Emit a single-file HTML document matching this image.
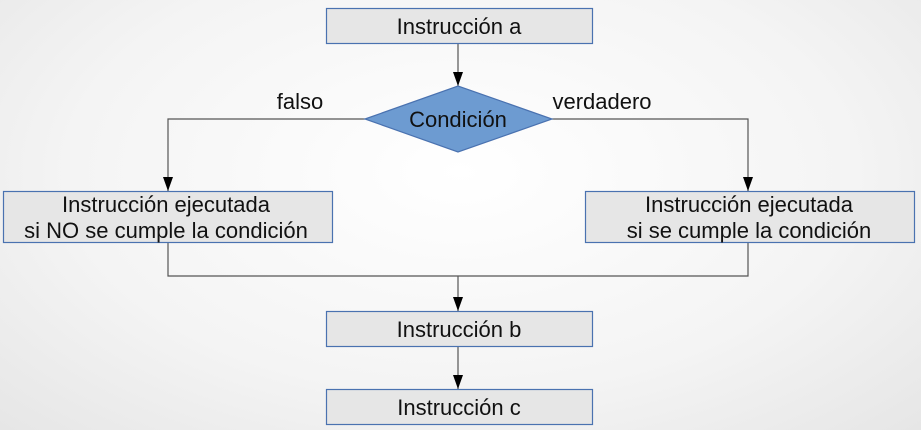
<!DOCTYPE html>
<html><head><meta charset="utf-8"><style>
html,body{margin:0;padding:0;width:921px;height:430px;overflow:hidden;}
body{background:radial-gradient(ellipse at 50% 40%,#ffffff 0%,#f4f4f4 60%,#e6e6e6 100%);}
svg{display:block}
text{font-family:"Liberation Sans",sans-serif;font-size:22px;fill:#111;text-anchor:middle}
</style></head><body>
<svg width="921" height="430" viewBox="0 0 921 430">
<defs><marker id="ar" markerWidth="14" markerHeight="10" refX="14" refY="5" orient="auto" markerUnits="userSpaceOnUse"><path d="M0,0 L14,5 L0,10 Z" fill="#000"/></marker></defs>
<g stroke="#555" stroke-width="1.2" fill="none">
<line x1="458" y1="43" x2="458" y2="86" marker-end="url(#ar)"/>
<polyline points="365,119 168,119 168,191" marker-end="url(#ar)"/>
<polyline points="552,119 748,119 748,191" marker-end="url(#ar)"/>
<polyline points="168,242 168,276 748,276 748,242"/>
<line x1="458" y1="276" x2="458" y2="311" marker-end="url(#ar)"/>
<line x1="458" y1="346" x2="458" y2="389" marker-end="url(#ar)"/>
</g>
<g fill="#e6e6e6" stroke="#4a72b0" stroke-width="1.2">
<rect x="326.5" y="8.5" width="266" height="35"/>
<rect x="3.5" y="191.5" width="329" height="51"/>
<rect x="585.5" y="191.5" width="329" height="51"/>
<rect x="326.5" y="311.5" width="266" height="35"/>
<rect x="326.5" y="389.5" width="266" height="35"/>
</g>
<polygon points="365,119 458,86 552,119 458,152" fill="#6d9bd1" stroke="#4a72b0" stroke-width="1.2"/>
<text x="459" y="34">Instrucción a</text>
<text x="458" y="127">Condición</text>
<text x="300" y="109">falso</text>
<text x="602" y="109">verdadero</text>
<text x="166" y="212">Instrucción ejecutada</text>
<text x="166" y="238">si NO se cumple la condición</text>
<text x="749" y="212">Instrucción ejecutada</text>
<text x="749" y="238">si se cumple la condición</text>
<text x="459" y="337">Instrucción b</text>
<text x="459" y="415">Instrucción c</text>
</svg>
</body></html>
